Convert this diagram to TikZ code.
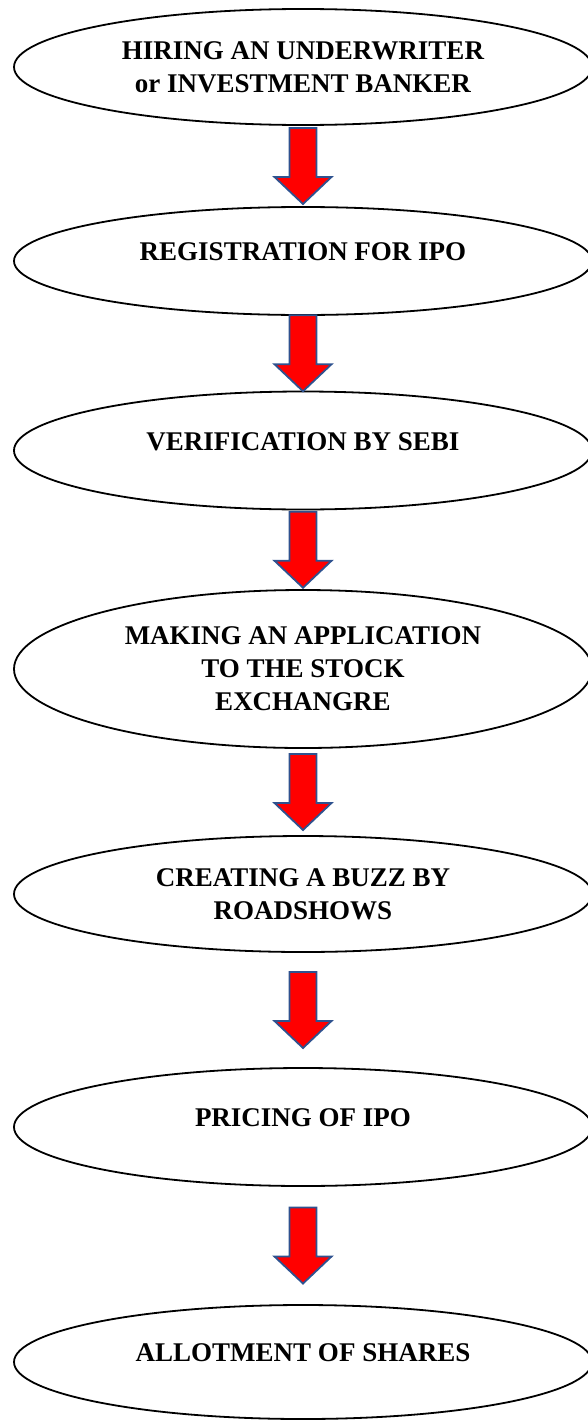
\documentclass[tikz,border=0pt]{standalone}
\usepackage{fontspec}
\setmainfont{Liberation Serif}
\usetikzlibrary{shapes.geometric,calc}
\definecolor{arrowedge}{RGB}{47,82,143}
\begin{document}
\begin{tikzpicture}[x=1pt, y=-1pt,
  stage/.style={draw, ellipse, line width=1.8pt, minimum width=578pt, inner sep=0pt, align=center, font=\fontsize{27}{33}\selectfont\bfseries},
  oneline/.style={text depth=18pt},
  blockarrow/.style={fill=red, draw=arrowedge, line width=1.8pt, line join=miter}]
\useasboundingbox (0,0) rectangle (587,1421);

\node[stage, minimum height=116pt] (n1) at (303,67) {HIRING AN UNDERWRITER\\or INVESTMENT BANKER};
\node[stage, oneline, minimum height=108pt] (n2) at (303,261) {REGISTRATION FOR IPO};
\node[stage, oneline, minimum height=118pt] (n3) at (303,450.5) {VERIFICATION BY SEBI};
\node[stage, minimum height=158pt] (n4) at (303,669) {MAKING AN APPLICATION\\TO THE STOCK\\EXCHANGRE};
\node[stage, minimum height=116pt] (n5) at (303,894) {CREATING A BUZZ BY\\ROADSHOWS};
\node[stage, oneline, minimum height=118pt] (n6) at (303,1127) {PRICING OF IPO};
\node[stage, oneline, minimum height=114pt] (n7) at (303,1362) {ALLOTMENT OF SHARES};

% fat red arrows, centred in the gap between two stages
\foreach \a/\b in {n1/n2,n2/n3,n3/n4,n4/n5,n5/n6,n6/n7}
  \draw[blockarrow] let \p1=($(\a.south)!0.5!(\b.north)$) in
    (\x1-13.5pt,\y1+38pt) -- (\x1+13.5pt,\y1+38pt) -- (\x1+13.5pt,\y1-11pt)
    -- (\x1+28.5pt,\y1-11pt) -- (\x1,\y1-38pt) -- (\x1-28.5pt,\y1-11pt)
    -- (\x1-13.5pt,\y1-11pt) -- cycle;
\end{tikzpicture}
\end{document}
